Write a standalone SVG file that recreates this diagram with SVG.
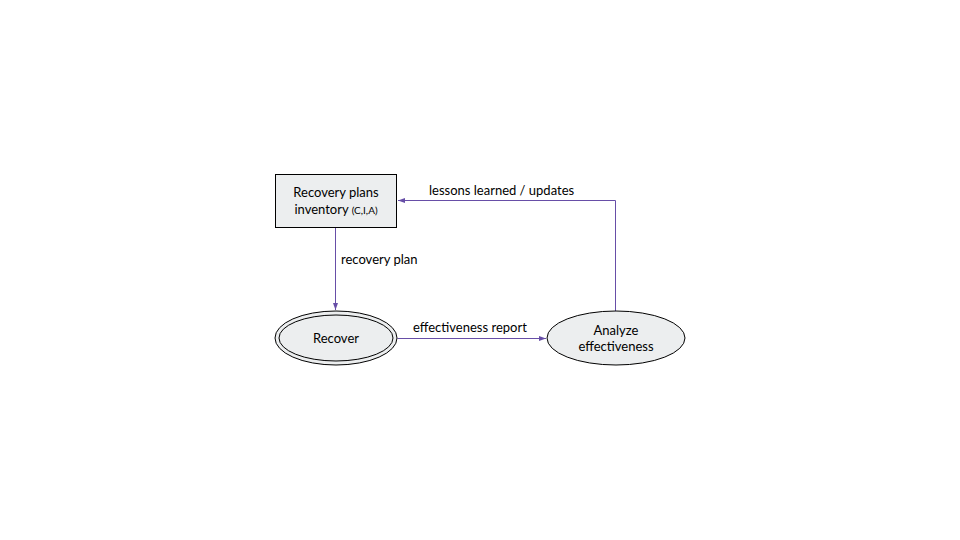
<svg xmlns="http://www.w3.org/2000/svg" width="960" height="540" viewBox="0 0 960 540">
<style>
text{font-family:Lato,"Open Sans","Liberation Sans",sans-serif;fill:#000;}
.n{fill:#eceeef;stroke:#000;stroke-width:1;}
.c{fill:none;stroke:#674ea7;stroke-width:1;}
.lbl{font-size:13px;}
</style>
<defs>
<marker id="ah" markerWidth="8" markerHeight="8" refX="7" refY="4" orient="auto" markerUnits="userSpaceOnUse">
<path d="M0,1.5 L7,4 L0,6.5 Z" fill="#674ea7"/>
</marker>
</defs>
<rect width="960" height="540" fill="#fff"/>
<g id="connectors">
<path class="c" d="M335.5,227.5 V310" marker-end="url(#ah)"/>
<path class="c" d="M397.5,338.5 H546" marker-end="url(#ah)"/>
<path class="c" d="M615.5,311 V200.5 H398" marker-end="url(#ah)"/>
<text class="lbl" x="341" y="264">recovery plan</text>
<text class="lbl" x="413" y="332">effectiveness report</text>
<text class="lbl" x="429" y="195">lessons learned / updates</text>
</g>
<g id="inventory">
<rect class="n" x="275.5" y="174.5" width="121" height="53"/>
<text x="336" y="197" text-anchor="middle" font-size="13">Recovery plans</text>
<text x="336" y="214" text-anchor="middle" font-size="13">inventory <tspan font-size="10">(C,I,A)</tspan></text>
</g>
<g id="recover">
<ellipse class="n" cx="336" cy="338" rx="61" ry="27"/>
<ellipse fill="none" stroke="#000" cx="336" cy="338" rx="57" ry="23"/>
<text x="336" y="343" text-anchor="middle" font-size="13">Recover</text>
</g>
<g id="analyze">
<ellipse class="n" cx="616" cy="338" rx="69" ry="27"/>
<text x="616" y="335" text-anchor="middle" font-size="13">Analyze</text>
<text x="616" y="351" text-anchor="middle" font-size="13">effectiveness</text>
</g>
</svg>
